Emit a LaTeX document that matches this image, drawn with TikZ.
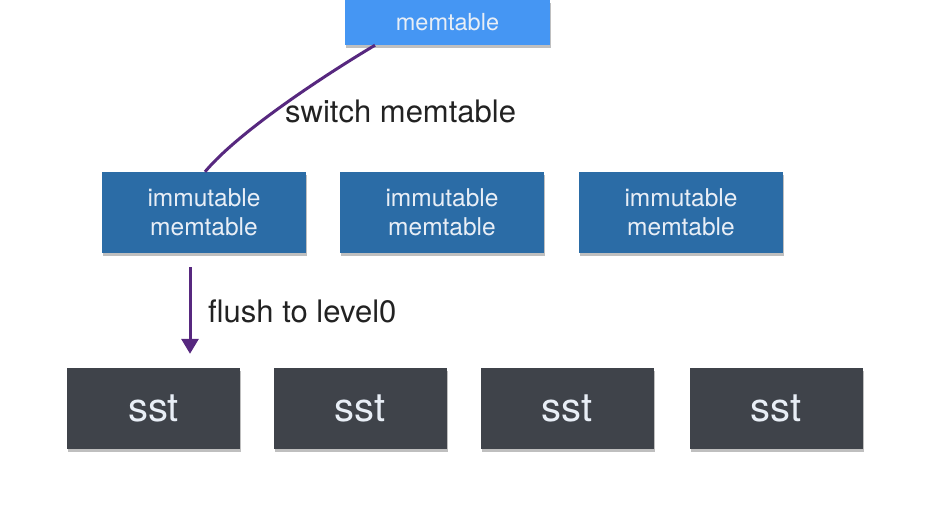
\documentclass[tikz,border=0pt]{standalone}
\usepackage{fontspec}
\setmainfont{TeX Gyre Heros}
\usetikzlibrary{arrows.meta,shadows}
\definecolor{memblue}{HTML}{4596F3}
\definecolor{immblue}{HTML}{2B6CA6}
\definecolor{sstgray}{HTML}{3F434A}
\definecolor{linkpurple}{HTML}{57287F}
\definecolor{boxtext}{HTML}{E8EEF6}
\definecolor{labeltext}{HTML}{222222}
\tikzset{
  boxbase/.style={inner sep=0pt, align=center, text=boxtext,
    drop shadow={shadow xshift=1pt, shadow yshift=-2.5pt, opacity=0.25, fill=black}},
  membox/.style={boxbase, fill=memblue, minimum width=205pt, minimum height=45pt,
    font=\fontsize{23.5}{27}\selectfont},
  immbox/.style={boxbase, fill=immblue, minimum width=204pt, minimum height=81pt,
    font=\fontsize{24.5}{29}\selectfont},
  sstbox/.style={boxbase, fill=sstgray, minimum width=173pt, minimum height=81pt,
    font=\fontsize{40}{42}\selectfont},
  lbl/.style={inner sep=0pt, text=labeltext, font=\fontsize{31}{35}\selectfont},
  link/.style={draw=linkpurple, line width=3pt},
}
\begin{document}
\begin{tikzpicture}[x=1pt,y=-1pt]
\useasboundingbox (0,0) rectangle (929,517);
\node[membox] (mem) at (447.5,22.5) {memtable};
\node[immbox] (imm1) at (204,212.5) {immutable\\memtable};
\node[immbox] (imm2) at (442,212.5) {immutable\\memtable};
\node[immbox] (imm3) at (681,212.5) {immutable\\memtable};
\node[sstbox] (sst1) at (153.5,408.5) {sst};
\node[sstbox] (sst2) at (360,408.5) {sst};
\node[sstbox] (sst3) at (567,408.5) {sst};
\node[sstbox] (sst4) at (776,408.5) {sst};
\node[lbl, anchor=base west] (swl) at (285,122) {switch memtable};
\node[lbl, anchor=base west] (fll) at (208,322) {flush to level0};
\draw[link] ([xshift=-72.5pt]mem.south) .. controls (330,72) and (240,130) .. ([xshift=1pt]imm1.north);
\draw[link, -{Triangle[width=17pt,length=15pt]}] ([xshift=-14pt,yshift=-14pt]imm1.south) -- ([xshift=36.5pt,yshift=14pt]sst1.north);
\end{tikzpicture}
\end{document}
